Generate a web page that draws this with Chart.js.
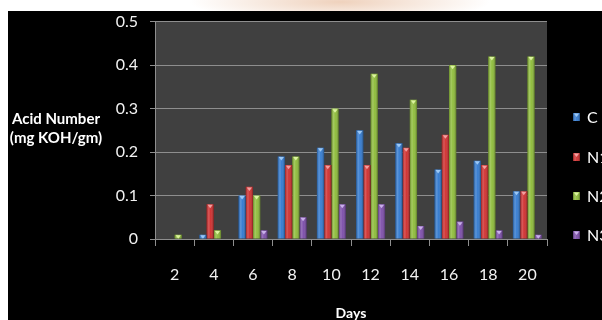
<!DOCTYPE html>
<html>
<head>
<meta charset="utf-8">
<script src="https://cdn.jsdelivr.net/npm/chart.js@4.4.1/dist/chart.umd.min.js"></script>
<style>
  html, body { margin: 0; padding: 0; width: 602px; height: 320px; overflow: hidden; }
  body {
    background:
      radial-gradient(ellipse 150px 20px at 340px 2px, rgba(232,190,160,0.7), rgba(255,255,255,0) 100%),
      #ffffff;
  }
  #c { position: absolute; left: 0; top: 0; }
</style>
</head>
<body>
<canvas id="c" width="602" height="320"></canvas>
<script>
// Acid number (mg KOH/gm) measured every two days
const days = ['2', '4', '6', '8', '10', '12', '14', '16', '18', '20'];
const valuesC  = [0.00, 0.01, 0.10, 0.19, 0.21, 0.25, 0.22, 0.16, 0.18, 0.11];
const valuesN1 = [0.00, 0.08, 0.12, 0.17, 0.17, 0.17, 0.21, 0.24, 0.17, 0.11];
const valuesN2 = [0.01, 0.02, 0.10, 0.19, 0.30, 0.38, 0.32, 0.40, 0.42, 0.42];
const valuesN3 = [0.00, 0.00, 0.02, 0.05, 0.08, 0.08, 0.03, 0.04, 0.02, 0.01];
const seriesNames = ['C', 'N1', 'N2', 'N3'];
const yTickLabels = ['0', '0.1', '0.2', '0.3', '0.4', '0.5'];
const yTitleLines = ['Acid Number', '(mg KOH/gm)'];
const xTitle = 'Days';

const baseColors = ['#2f78cf', '#cf2b2b', '#8cbb36', '#7a4aa8'];
const capColors  = ['#9cc8f5', '#f3a0a0', '#dcf3a0', '#c9b0ea'];

// Cylinder-like shading laid over each bar plus the small cap marker
function shadeBar(ctx, left, top, w, h, i) {
  if (h <= 0.5) return;
  const g = ctx.createLinearGradient(left, 0, left + w, 0);
  g.addColorStop(0, 'rgba(0,0,0,0.25)');
  g.addColorStop(0.3, 'rgba(255,255,255,0.22)');
  g.addColorStop(0.55, 'rgba(255,255,255,0.05)');
  g.addColorStop(1, 'rgba(0,0,0,0.35)');
  ctx.fillStyle = g;
  ctx.fillRect(left, top, w, h);
  const cx = left + w / 2;
  const th = Math.min(3.5, h);
  ctx.fillStyle = capColors[i];
  ctx.beginPath();
  ctx.moveTo(cx - 2.6, top + 0.6);
  ctx.lineTo(cx + 2.6, top + 0.6);
  ctx.lineTo(cx, top + 0.6 + th);
  ctx.closePath();
  ctx.fill();
}

const framePlugin = {
  id: 'frame',
  beforeDraw(chart) {
    const { ctx, chartArea: a } = chart;
    ctx.save();
    ctx.fillStyle = '#000000';
    ctx.fillRect(8, 11, 594, 309);
    ctx.fillStyle = '#404040';
    ctx.fillRect(a.left, a.top, a.right - a.left, a.bottom - a.top);
    ctx.restore();
  },
  afterDatasetsDraw(chart) {
    const { ctx } = chart;
    ctx.save();
    chart.data.datasets.forEach((ds, i) => {
      chart.getDatasetMeta(i).data.forEach(bar => {
        const p = bar.getProps(['x', 'y', 'base', 'width'], true);
        shadeBar(ctx, p.x - p.width / 2, p.y, p.width, p.base - p.y, i);
      });
    });
    ctx.restore();
  },
  afterDraw(chart) {
    const { ctx } = chart;
    ctx.save();
    ctx.fillStyle = '#ffffff';
    // vertical axis title, written horizontally on two lines
    ctx.font = 'bold 15px Lato';
    ctx.textAlign = 'center';
    ctx.textBaseline = 'alphabetic';
    ctx.fillText(yTitleLines[0], 56, 124);
    ctx.fillText(yTitleLines[1], 56, 143);
    // horizontal axis title
    ctx.font = 'bold 14px Lato';
    ctx.fillText(xTitle, 351, 318);
    // legend
    ctx.font = '16px Lato';
    ctx.textAlign = 'left';
    ctx.textBaseline = 'middle';
    const legendY = [117, 157, 196, 235];
    chart.data.datasets.forEach((ds, i) => {
      const y = legendY[i];
      ctx.fillStyle = baseColors[i];
      ctx.fillRect(573, y - 4, 7, 8);
      shadeBar(ctx, 573, y - 4, 7, 8, i);
      ctx.fillStyle = '#ffffff';
      ctx.fillText(ds.label, 587, y + 1);
    });
    ctx.restore();
  }
};

const gridGray = '#8e8e8e';

new Chart(document.getElementById('c'), {
  type: 'bar',
  data: {
    labels: days,
    datasets: [valuesC, valuesN1, valuesN2, valuesN3].map((vals, i) => ({
      label: seriesNames[i],
      data: vals,
      backgroundColor: baseColors[i],
      borderWidth: 0,
      categoryPercentage: 0.74,
      barPercentage: 1.0
    }))
  },
  options: {
    responsive: false,
    animation: false,
    devicePixelRatio: 1,
    layout: { padding: { left: 0, right: 55, top: 19, bottom: 0 } },
    plugins: {
      legend: { display: false },
      tooltip: { enabled: false }
    },
    scales: {
      x: {
        grid: {
          display: true,
          offset: true,
          drawOnChartArea: false,
          drawTicks: true,
          tickLength: 7,
          color: gridGray
        },
        border: { display: true, color: gridGray, width: 1 },
        ticks: {
          color: '#f2f2f2',
          font: { family: 'Lato', size: 16 },
          padding: 19,
          maxRotation: 0
        },
        afterFit(scale) { scale.height = 81; }
      },
      y: {
        min: 0,
        max: 0.5,
        grid: {
          color: gridGray,
          lineWidth: 1,
          drawTicks: true,
          tickLength: 5
        },
        border: { display: true, color: gridGray, width: 1 },
        ticks: {
          stepSize: 0.1,
          color: '#f2f2f2',
          font: { family: 'Lato', size: 16 },
          padding: 12,
          callback: (v, idx) => yTickLabels[idx]
        },
        afterFit(scale) { scale.width = 155; }
      }
    }
  },
  plugins: [framePlugin]
});
</script>
</body>
</html>
